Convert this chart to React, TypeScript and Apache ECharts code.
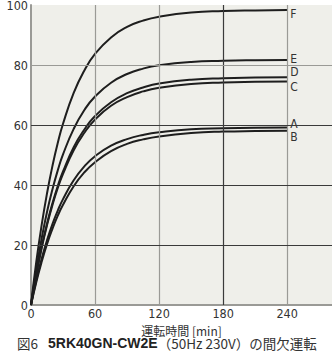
import React, { useEffect, useRef } from "react";
import * as echarts from "echarts";

const times = [0, 5, 10, 15, 20, 25, 30, 40, 50, 60, 75, 90, 105, 120, 150, 180, 210, 240];
const seriesF = [0, 14.5, 26.7, 37.2, 46.2, 53.9, 60.4, 70.7, 78.2, 83.7, 89.2, 92.7, 94.8, 96.1, 97.5, 98.0, 98.2, 98.3];
const seriesE = [0, 12.0, 22.2, 31.0, 38.4, 44.8, 50.2, 58.7, 65.0, 69.5, 74.1, 77.0, 78.8, 79.9, 81.0, 81.4, 81.6, 81.7];
const seriesD = [0, 10.4, 19.4, 27.1, 33.8, 39.6, 44.5, 52.6, 58.5, 63.0, 67.6, 70.6, 72.5, 73.8, 75.1, 75.6, 75.8, 75.9];
const seriesC = [0, 10.2, 19.0, 26.6, 33.2, 38.9, 43.7, 51.6, 57.4, 61.8, 66.4, 69.3, 71.2, 72.4, 73.7, 74.2, 74.4, 74.5];
const seriesA = [0, 8.3, 15.5, 21.6, 26.9, 31.4, 35.3, 41.6, 46.2, 49.6, 53.1, 55.3, 56.7, 57.6, 58.6, 58.9, 59.1, 59.2];
const seriesB = [0, 7.7, 14.4, 20.3, 25.3, 29.7, 33.4, 39.6, 44.2, 47.6, 51.3, 53.7, 55.2, 56.2, 57.3, 57.8, 58.0, 58.1];
const seriesNames = ["F", "E", "D", "C", "A", "B"];
const labelOffsets = [4, -1, -5, 5, -3, 6];
const xTicks = [0, 60, 120, 180, 240];
const yTicks = [0, 20, 40, 60, 80, 100];
const xGridLines = [60, 120, 180, 240];
const xGridColors = ["#9a9a96", "#9a9a96", "#3a3a3a", "#9a9a96"];
const yGridLines = [20, 40, 60, 80];
const yGridColors = ["#3a3a3a", "#3a3a3a", "#3a3a3a", "#9a9a96"];

const NARROW = '"Liberation Sans Narrow", "DejaVu Sans Condensed", "Liberation Sans", sans-serif';
const CJK = '"Noto Sans CJK JP", "Noto Sans", sans-serif';

export default function App() {
  const ref = useRef<HTMLDivElement>(null);
  useEffect(() => {
    if (!ref.current) return;
    const chart = echarts.init(ref.current, null, { renderer: "svg" });
    const all = [seriesF, seriesE, seriesD, seriesC, seriesA, seriesB];
    const series: any[] = all.map((vals, i) => ({
      name: seriesNames[i],
      type: "line",
      data: times.map((t, j) => [t, vals[j]]),
      smooth: true,
      symbol: "none",
      lineStyle: { color: "#1e1e1e", width: 2 },
      z: 3,
      endLabel: {
        show: true,
        formatter: seriesNames[i],
        color: "#333",
        fontFamily: NARROW,
        fontSize: 12,
        distance: 3,
        offset: [0, labelOffsets[i]],
      },
    }));
    series.push({
      type: "line",
      data: [],
      z: 1,
      markLine: {
        silent: true,
        symbol: "none",
        label: { show: false },
        animation: false,
        data: [
          ...xGridLines.map((v, i) => ({ xAxis: v, lineStyle: { color: xGridColors[i], width: 1.2, type: "solid" } })),
          ...yGridLines.map((v, i) => ({ yAxis: v, lineStyle: { color: yGridColors[i], width: 1.2, type: "solid" } })),
        ],
      },
    });
    chart.setOption({
      animation: false,
      backgroundColor: "#ffffff",
      grid: {
        left: 31,
        right: 0,
        top: 5,
        bottom: 48,
        show: true,
        backgroundColor: "#efefea",
        borderWidth: 0,
        containLabel: false,
        outerBoundsMode: "none",
      },
      title: {
        text: "{a|図6}  {b|5RK40GN-CW2E}{c|（50Hz 230V）の間欠運転}",
        left: 17,
        top: 334,
        padding: 0,
        textStyle: {
          fontWeight: "normal",
          rich: {
            a: { fontFamily: CJK, fontSize: 13.5, color: "#333", fontWeight: "normal" },
            b: { fontFamily: '"Liberation Sans", sans-serif', fontSize: 14, fontWeight: "bold", color: "#222" },
            c: { fontFamily: CJK, fontSize: 13.5, color: "#333", fontWeight: "normal" },
          },
        },
      },
      xAxis: {
        type: "value",
        min: 0,
        max: 282,
        interval: 60,
        name: "運転時間 [min]",
        nameLocation: "middle",
        nameGap: 13,
        nameTextStyle: { fontFamily: CJK, fontSize: 12, color: "#333" },
        axisLine: { show: true, lineStyle: { color: "#9a9a96", width: 2 } },
        axisTick: { show: false },
        splitLine: { show: false },
        axisLabel: {
          color: "#333",
          fontFamily: NARROW,
          fontSize: 12.5,
          margin: 2,
          formatter: (v: number) => (xTicks.includes(v) ? String(v) : ""),
        },
      },
      yAxis: {
        type: "value",
        min: 0,
        max: 100,
        interval: 20,
        name: "巻線温度上昇 [℃]",
        nameLocation: "middle",
        nameGap: 16,
        nameTextStyle: { fontFamily: CJK, fontSize: 12, color: "#333" },
        axisLine: { show: true, lineStyle: { color: "#9a9a96", width: 2 } },
        axisTick: { show: false },
        splitLine: { show: false },
        axisLabel: {
          color: "#333",
          fontFamily: NARROW,
          fontSize: 12.5,
          margin: 3,
          formatter: (v: number) => (yTicks.includes(v) ? String(v) : ""),
        },
      },
      series,
    });
    return () => chart.dispose();
  }, []);
  return <div ref={ref} style={{ width: 332, height: 353, position: "absolute", left: 0, top: 0 }} />;
}
